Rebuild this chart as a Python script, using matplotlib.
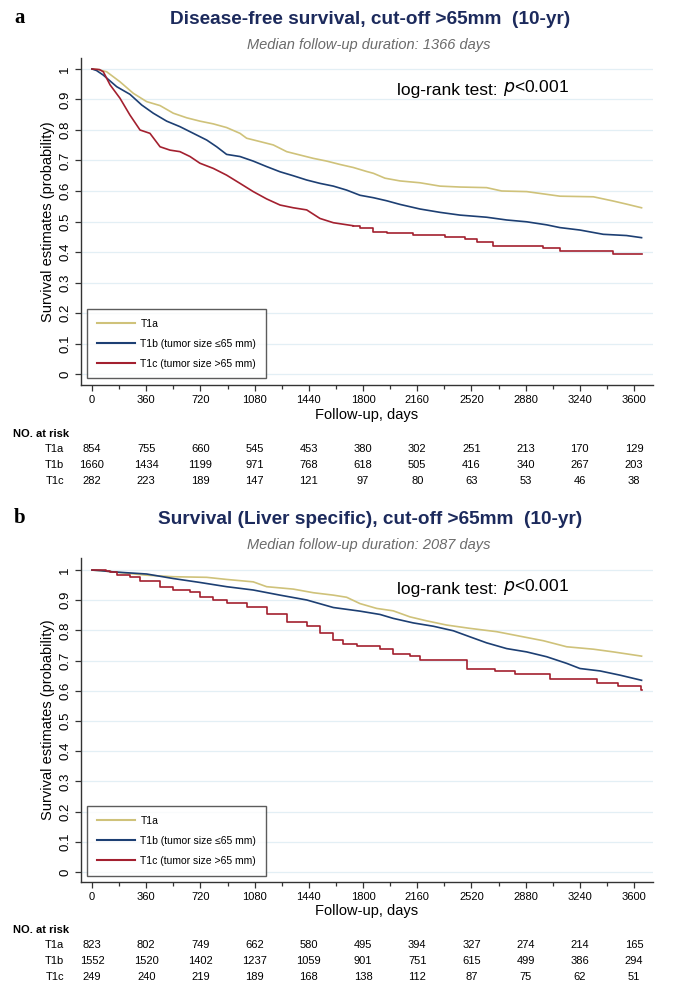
import matplotlib
matplotlib.use('Agg')
import matplotlib.pyplot as plt
from matplotlib.transforms import blended_transform_factory
from matplotlib.lines import Line2D

plt.rcParams['font.family'] = ['Liberation Sans', 'DejaVu Sans']

# colours
c_t1a = '#cfc27a'
c_t1b = '#1d3f73'
c_t1c = '#a3202f'
navy = '#1c2a5c'

groups = ['T1a', 'T1b', 'T1c']
legend_labels = ['T1a', 'T1b (tumor size ≤65 mm)', 'T1c (tumor size >65 mm)']
risk_days = [0, 360, 720, 1080, 1440, 1800, 2160, 2520, 2880, 3240, 3600]

# panel a: disease-free survival
a_t1a_days = [0, 40, 97, 186, 275, 363, 452, 540, 629, 717, 806, 894, 983, 1027, 1116, 1204, 1293,
              1381, 1470, 1559, 1647, 1736, 1824, 1869, 1946, 2046, 2178, 2311, 2444, 2621, 2721,
              2887, 3020, 3108, 3330, 3463, 3550, 3650]
a_t1a_surv = [1.0, 0.998, 0.991, 0.958, 0.92, 0.893, 0.88, 0.855, 0.84, 0.829, 0.82, 0.808, 0.789,
              0.773, 0.762, 0.751, 0.729, 0.718, 0.707, 0.698, 0.687, 0.677, 0.664, 0.658, 0.642,
              0.633, 0.627, 0.616, 0.613, 0.611, 0.60, 0.598, 0.589, 0.583, 0.581, 0.567, 0.557, 0.545]
a_t1b_days = [0, 30, 75, 164, 252, 330, 407, 496, 584, 673, 762, 828, 894, 983, 1071, 1160, 1249,
              1337, 1426, 1514, 1603, 1691, 1780, 1869, 1957, 2046, 2178, 2311, 2444, 2621, 2754,
              2887, 3020, 3108, 3241, 3396, 3550, 3650]
a_t1b_surv = [1.0, 0.995, 0.98, 0.942, 0.917, 0.882, 0.855, 0.829, 0.811, 0.789, 0.767, 0.745, 0.72,
              0.713, 0.698, 0.68, 0.663, 0.65, 0.636, 0.625, 0.616, 0.603, 0.586, 0.578, 0.568, 0.556,
              0.541, 0.53, 0.521, 0.514, 0.505, 0.499, 0.489, 0.48, 0.472, 0.458, 0.454, 0.447]
a_t1c_days = [0, 50, 75, 120, 186, 252, 319, 385, 452, 518, 584, 651, 717, 806, 894, 983, 1071,
              1160, 1249, 1337, 1426, 1514, 1603, 1736, 1780, 1869, 1957, 2135, 2345, 2478, 2555,
              2666, 2998, 3108, 3463, 3650]
a_t1c_surv = [1.0, 0.998, 0.991, 0.948, 0.904, 0.849, 0.80, 0.789, 0.745, 0.734, 0.729, 0.713, 0.691,
              0.674, 0.652, 0.625, 0.598, 0.574, 0.554, 0.545, 0.538, 0.51, 0.496, 0.486, 0.478, 0.467,
              0.461, 0.456, 0.448, 0.443, 0.434, 0.421, 0.412, 0.403, 0.393, 0.393]
a_risk_t1a = [854, 755, 660, 545, 453, 380, 302, 251, 213, 170, 129]
a_risk_t1b = [1660, 1434, 1199, 971, 768, 618, 505, 416, 340, 267, 203]
a_risk_t1c = [282, 223, 189, 147, 121, 97, 80, 63, 53, 46, 38]

# panel b: liver specific survival
b_t1a_days = [0, 60, 142, 363, 540, 762, 894, 1071, 1160, 1337, 1470, 1603, 1691, 1780, 1891, 2001,
              2112, 2222, 2355, 2510, 2688, 2843, 2998, 3153, 3330, 3463, 3650]
b_t1a_surv = [1.0, 0.998, 0.994, 0.983, 0.978, 0.976, 0.969, 0.961, 0.945, 0.937, 0.925, 0.917, 0.91,
              0.889, 0.873, 0.865, 0.845, 0.832, 0.818, 0.807, 0.796, 0.781, 0.766, 0.746, 0.738,
              0.729, 0.715]
b_t1b_days = [0, 60, 142, 363, 540, 717, 894, 1071, 1249, 1426, 1603, 1736, 1780, 1913, 2001, 2134,
              2267, 2400, 2510, 2621, 2754, 2887, 3020, 3153, 3241, 3374, 3507, 3650]
b_t1b_surv = [1.0, 0.998, 0.994, 0.987, 0.972, 0.959, 0.945, 0.934, 0.917, 0.901, 0.876, 0.867, 0.864,
              0.853, 0.84, 0.825, 0.814, 0.799, 0.779, 0.759, 0.74, 0.729, 0.713, 0.691, 0.674, 0.666,
              0.652, 0.635]
b_t1c_days = [0, 90, 120, 164, 252, 319, 452, 540, 651, 717, 806, 894, 1027, 1160, 1293, 1426, 1514,
              1603, 1669, 1758, 1913, 2001, 2112, 2178, 2488, 2676, 2809, 3042, 3352, 3496, 3645, 3650]
b_t1c_surv = [1.0, 0.998, 0.994, 0.983, 0.976, 0.965, 0.945, 0.934, 0.928, 0.912, 0.901, 0.89, 0.878,
              0.856, 0.829, 0.814, 0.79, 0.768, 0.755, 0.749, 0.738, 0.722, 0.715, 0.702, 0.674, 0.666,
              0.657, 0.639, 0.627, 0.615, 0.602, 0.602]
b_risk_t1a = [823, 802, 749, 662, 580, 495, 394, 327, 274, 214, 165]
b_risk_t1b = [1552, 1520, 1402, 1237, 1059, 901, 751, 615, 499, 386, 294]
b_risk_t1c = [249, 240, 219, 189, 168, 138, 112, 87, 75, 62, 51]

W, H = 687, 992
fig = plt.figure(figsize=(W / 100, H / 100), dpi=100)


def fy(py):
    return 1 - py / H


def draw_curve(ax, d, s, col, step_from):
    # smooth-looking part drawn as a line, later sparse part as KM steps
    k = sum(1 for v in d if v <= step_from)
    ax.plot(d[:k], s[:k], color=col, lw=1.2, zorder=3)
    if k < len(d):
        ax.plot(d[k - 1:], s[k - 1:], color=col, lw=1.2, drawstyle='steps-post', zorder=3)


def panel(letter, title, subtitle, ax_box, ylim, curves, risks, y_lab, y_rows):
    left, top_px, bot_px = ax_box
    ax = fig.add_axes([left / W, fy(bot_px), (653 - left) / W, (bot_px - top_px) / H])
    ax.set_xlim(-73, 3726)
    ax.set_ylim(*ylim)
    for v in [i / 10 for i in range(11)]:
        ax.axhline(v, color='#e3eff5', lw=0.9, zorder=0)
    for (d, s, col, step_from) in curves:
        draw_curve(ax, d, s, col, step_from)

    for side in ['top', 'right']:
        ax.spines[side].set_visible(False)
    for side in ['left', 'bottom']:
        ax.spines[side].set_color('#333333')
        ax.spines[side].set_linewidth(1.0)
    ax.set_yticks([i / 10 for i in range(11)])
    ax.set_yticklabels(['0'] + ['0.%d' % i for i in range(1, 10)] + ['1'], rotation=90,
                       va='center', fontsize=9.5)
    ax.set_xticks(risk_days)
    ax.set_xticks(range(180, 3700, 360), minor=True)
    ax.tick_params(axis='x', which='major', length=4, width=0.9, color='#333333', labelsize=8, pad=3)
    ax.tick_params(axis='x', which='minor', length=3, width=0.9, color='#333333')
    ax.tick_params(axis='y', length=4, width=0.9, color='#333333', pad=3)
    ax.set_xlabel('Follow-up, days', fontsize=10.5, labelpad=2)
    ax.set_ylabel('Survival estimates (probability)', fontsize=10.5, labelpad=3)

    ax.text(2026, ylim[1] - 0.105, 'log-rank test: ', fontsize=12.5, va='center', ha='left',
            transform=ax.transData)
    ax.annotate('$\\mathit{p}$<0.001', xy=(1, 0), xycoords=ax.texts[-1], fontsize=12.5,
                va='bottom', ha='left', xytext=(0, 0), textcoords='offset points')

    handles = [Line2D([0], [0], color=c, lw=1.5) for c in [c_t1a, c_t1b, c_t1c]]
    leg = ax.legend(handles, legend_labels, loc='lower left', bbox_to_anchor=(0.011, 0.02),
                    fontsize=7.5, frameon=True, fancybox=False, handlelength=3.6,
                    labelspacing=0.95, borderpad=0.95, handletextpad=0.55, borderaxespad=0)
    leg.get_frame().set_edgecolor('#333333')
    leg.get_frame().set_linewidth(1.0)

    fig.text(14 / W, fy(top_px - 40), letter, fontsize=15, fontweight='bold',
             family='Liberation Serif', ha='left', va='center')
    fig.text(370 / W, fy(top_px - 38), title, fontsize=13.7, fontweight='bold', color=navy,
             ha='center', va='center')
    fig.text(369 / W, fy(top_px - 13), subtitle, fontsize=10.5, style='italic', color='#6b6b6b',
             ha='center', va='center')

    tr = blended_transform_factory(ax.transData, fig.transFigure)
    fig.text(13 / W, fy(y_lab), 'NO. at risk', fontsize=8, fontweight='bold', va='center')
    for g, counts, py in zip(groups, risks, y_rows):
        fig.text(64 / W, fy(py), g, fontsize=8, ha='right', va='center')
        for d, n in zip(risk_days, counts):
            ax.text(d, fy(py), str(n), fontsize=8, ha='center', va='center', transform=tr)
    return ax


panel('a', 'Disease-free survival, cut-off >65mm  (10-yr)', 'Median follow-up duration: 1366 days',
      (81, 58, 385), (-0.036, 1.036),
      [(a_t1a_days, a_t1a_surv, c_t1a, 9999), (a_t1b_days, a_t1b_surv, c_t1b, 9999),
       (a_t1c_days, a_t1c_surv, c_t1c, 1736)],
      [a_risk_t1a, a_risk_t1b, a_risk_t1c], 434, [449, 465, 481])

panel('b', 'Survival (Liver specific), cut-off >65mm  (10-yr)', 'Median follow-up duration: 2087 days',
      (81, 558, 882), (-0.033, 1.04),
      [(b_t1a_days, b_t1a_surv, c_t1a, 9999), (b_t1b_days, b_t1b_surv, c_t1b, 9999),
       (b_t1c_days, b_t1c_surv, c_t1c, 0)],
      [b_risk_t1a, b_risk_t1b, b_risk_t1c], 930, [945, 961, 977])

fig.savefig('out.png', dpi=100)
